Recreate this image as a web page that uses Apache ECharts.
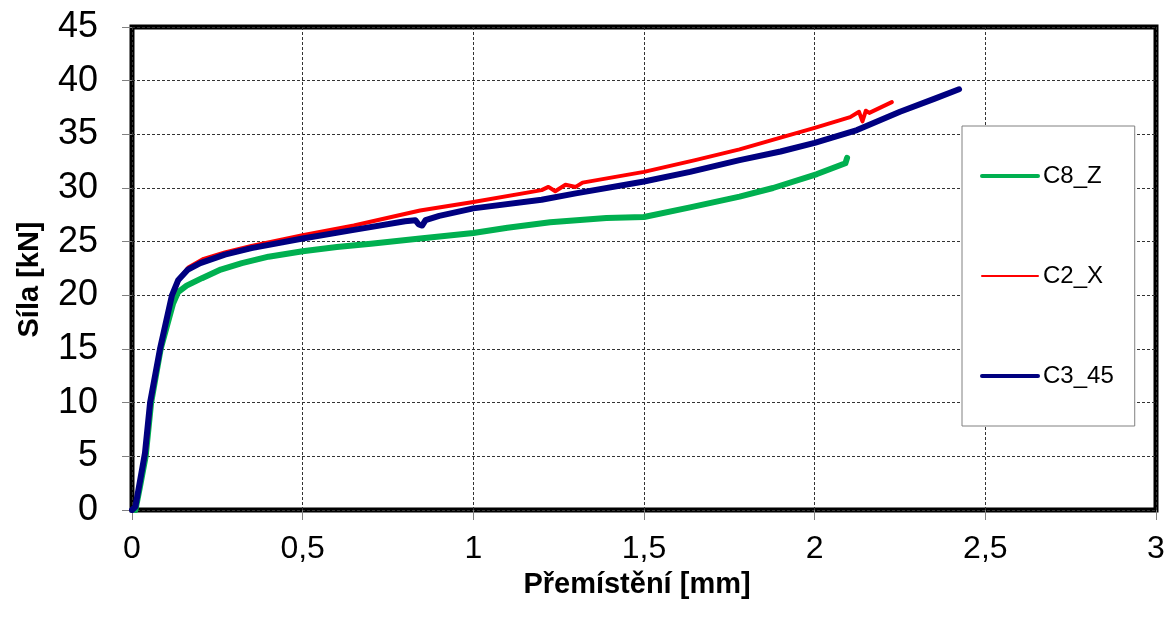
<!DOCTYPE html>
<html>
<head>
<meta charset="utf-8">
<script src="https://cdn.jsdelivr.net/npm/echarts@6/dist/echarts.min.js"></script>
<style>
  html, body { margin: 0; padding: 0; background: #fff; }
  #chart { width: 1176px; height: 625px; }
</style>
</head>
<body>
<div id="chart"></div>
<script>
// values: [displacement mm, force kN]
var c8Z = [
  [0.01, 0], [0.023, 2.1], [0.04, 5], [0.056, 10], [0.084, 15], [0.12, 19.2],
  [0.135, 20.3], [0.16, 20.9], [0.205, 21.6], [0.26, 22.4], [0.322, 23.0],
  [0.4, 23.6], [0.5, 24.1], [0.6, 24.5], [0.7, 24.8], [0.844, 25.3],
  [1.0, 25.8], [1.1, 26.3], [1.225, 26.8], [1.39, 27.2], [1.5, 27.3],
  [1.635, 28.2], [1.78, 29.2], [1.878, 30.0], [2.007, 31.3], [2.09, 32.3], [2.095, 32.8]
]
var c2X = [
  [0, 0], [0.01, 0.3], [0.04, 5.3], [0.055, 10], [0.083, 15], [0.118, 20],
  [0.14, 21.6], [0.165, 22.6], [0.21, 23.4], [0.272, 24.0], [0.35, 24.6],
  [0.5, 25.6], [0.65, 26.5], [0.844, 27.9], [1.0, 28.7], [1.2, 29.8],
  [1.22, 30.1], [1.24, 29.7], [1.27, 30.3], [1.3, 30.1], [1.32, 30.5],
  [1.5, 31.5], [1.65, 32.6], [1.78, 33.6], [1.9, 34.7], [2.0, 35.6],
  [2.104, 36.6], [2.13, 37.1], [2.14, 36.2], [2.15, 37.2], [2.16, 37.0], [2.226, 38.0]
]
var c345 = [
  [0, 0], [0.01, 0.3], [0.038, 5.3], [0.053, 10], [0.082, 15], [0.117, 20],
  [0.135, 21.4], [0.164, 22.4], [0.2, 23.0], [0.272, 23.8], [0.35, 24.4],
  [0.5, 25.3], [0.65, 26.1], [0.8, 26.9], [0.83, 27.0], [0.84, 26.6],
  [0.85, 26.5], [0.86, 27.0], [0.9, 27.4], [1.0, 28.1], [1.2, 28.9],
  [1.3, 29.5], [1.5, 30.6], [1.635, 31.5], [1.78, 32.6], [1.9, 33.4], [2.0, 34.2],
  [2.124, 35.4], [2.25, 37.1], [2.35, 38.3], [2.423, 39.2]
]
var seriesNames = ['C8_Z', 'C2_X', 'C3_45']
var seriesColors = ['#00b050', '#ff0000', '#000080']
var seriesWidths = [6, 4, 6]
var legendWidths = [4, 2, 4]

var font = '"Liberation Sans", Arial, sans-serif'
var dash = { color: '#333', width: 1, type: [3, 2] }

var myChart = echarts.init(document.getElementById('chart'))
myChart.setOption({
  backgroundColor: '#fff',
  animation: false,
  grid: {
    left: 132, right: 20, top: 27, bottom: 115,
    show: true, borderColor: '#000', borderWidth: 5
  },
  legend: {
    orient: 'vertical',
    left: 962, top: 126,
    padding: [38, 21, 38, 18],
    itemGap: 76,
    itemWidth: 56,
    itemHeight: 14,
    backgroundColor: '#fff',
    borderColor: '#808080',
    borderWidth: 1,
    borderRadius: 0,
    itemStyle: { opacity: 0 },
    textStyle: { fontFamily: font, fontSize: 24, lineHeight: 24, color: '#000' },
    data: seriesNames.map(function (n, i) {
      return { name: n, lineStyle: { width: legendWidths[i], color: seriesColors[i], cap: 'round' } }
    })
  },
  xAxis: {
    type: 'value',
    min: 0, max: 3, interval: 0.5,
    name: 'Přemístění [mm]',
    nameLocation: 'middle',
    nameGap: 60,
    nameTextStyle: { fontFamily: font, fontSize: 29, fontWeight: 'bold', color: '#000', padding: [0, 14, 0, 0] },
    axisLine: { show: false },
    axisTick: { show: true, length: 10, lineStyle: { color: '#808080' } },
    axisLabel: {
      fontFamily: font, fontSize: 32, color: '#000', margin: 23,
      formatter: function (v) { return String(v).replace('.', ',') }
    },
    splitLine: { show: true, lineStyle: dash }
  },
  yAxis: {
    type: 'value',
    min: 0, max: 45, interval: 5,
    name: 'Síla [kN]',
    nameLocation: 'middle',
    nameGap: 88,
    nameTextStyle: { fontFamily: font, fontSize: 29, fontWeight: 'bold', color: '#000', padding: [0, 22, 0, 0] },
    axisLine: { show: false },
    axisTick: { show: true, length: 10, lineStyle: { color: '#808080' } },
    axisLabel: { fontFamily: font, fontSize: 36, color: '#000', margin: 34 },
    splitLine: { show: true, lineStyle: dash }
  },
  series: [
    { name: seriesNames[0], type: 'line', data: c8Z, symbol: 'none', color: seriesColors[0],
      lineStyle: { width: seriesWidths[0], color: seriesColors[0], cap: 'round', join: 'round' } },
    { name: seriesNames[1], type: 'line', data: c2X, symbol: 'none', color: seriesColors[1],
      lineStyle: { width: seriesWidths[1], color: seriesColors[1], cap: 'round', join: 'round' } },
    { name: seriesNames[2], type: 'line', data: c345, symbol: 'none', color: seriesColors[2],
      lineStyle: { width: seriesWidths[2], color: seriesColors[2], cap: 'round', join: 'round' } }
  ]
})
</script>
</body>
</html>
